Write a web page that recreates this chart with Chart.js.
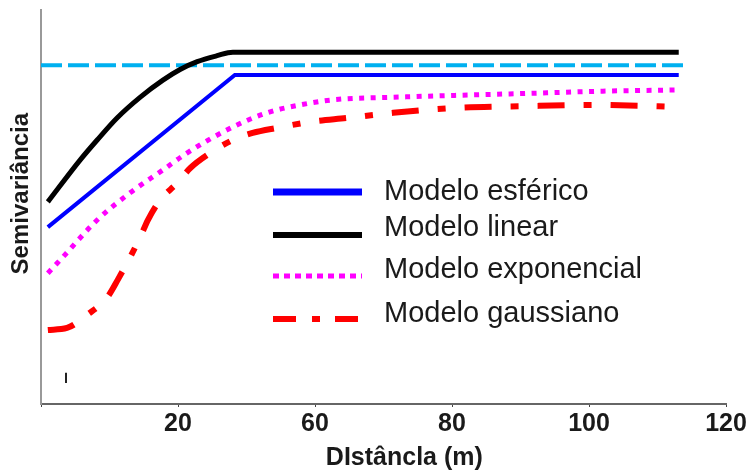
<!DOCTYPE html>
<html>
<head>
  <title>Semivariograma - modelos</title>
  <script src="https://cdn.jsdelivr.net/npm/chart.js"></script>
  <style>
    body { margin: 0; background: #fff; }
    canvas { display: block; }
  </style>
</head>
<body>
  <canvas id="semiChart" width="754" height="472"></canvas>

  <script>
    // x ticks as printed on the original figure
    const xTickValues = [0, 20, 40, 60, 80, 100];
    const xTickLabels = ['', '20', '60', '80', '100', '120'];

    // values (y in arbitrary 0-100 units)
    const esfericoX = [1.0, 28.3, 93.1];
    const esfericoY = [44.9, 83.5, 83.5];

    const linearX = [1.0, 5.7, 8.2, 11.1, 14.5, 17.8, 20.3, 22.8, 25.7, 28.0, 93.1];
    const linearY = [51.3, 61.9, 67.0, 72.6, 77.9, 82.2, 84.9, 86.9, 88.4, 89.3, 89.3];

    const exponencialX = [1.0, 3.2, 8.2, 13.0, 17.8, 21.3, 28.0, 33.0, 37.8, 42.6, 52.4, 72.4, 82.0, 93.1];
    const exponencialY = [33.2, 37.3, 46.7, 53.6, 59.4, 63.7, 70.3, 73.9, 75.9, 77.2, 77.9, 78.9, 79.4, 79.7];

    const gaussianoX = [1.0, 3.8, 6.7, 9.6, 11.2, 14.5, 15.6, 17.4, 19.9, 21.8, 24.7, 28.0, 30.9, 34.5, 39.3, 44.7, 51.4, 60.1, 70.9, 81.2, 93.1];
    const gaussianoY = [18.8, 19.3, 22.6, 26.9, 31.5, 42.4, 46.7, 51.8, 56.1, 59.9, 63.7, 67.0, 68.8, 70.1, 71.6, 72.6, 73.9, 75.1, 75.6, 75.9, 75.4];

    const patamarX = [0, 94.5];
    const patamarY = [86.0, 86.0];

    const marcaX = [3.65, 3.65];
    const marcaY = [7.9, 5.3];

    const pts = (xs, ys) => xs.map((x, i) => ({ x: x, y: ys[i] }));

    // legend drawn inside the plot area
    const innerLegend = {
      id: 'innerLegend',
      afterDatasetsDraw(chart, args, opts) {
        const ctx = chart.ctx;
        ctx.save();
        opts.items.forEach(item => {
          const ds = chart.data.datasets[item.index];
          ctx.beginPath();
          ctx.setLineDash(item.dash || []);
          ctx.lineCap = 'butt';
          ctx.strokeStyle = ds.borderColor;
          ctx.lineWidth = item.width;
          ctx.moveTo(opts.lineX0, item.lineY);
          ctx.lineTo(opts.lineX1, item.lineY);
          ctx.stroke();
          ctx.setLineDash([]);
          ctx.fillStyle = '#1a1a1a';
          ctx.font = '29px "Liberation Sans", Arial, sans-serif';
          ctx.textBaseline = 'middle';
          ctx.textAlign = 'left';
          ctx.fillText(ds.label, opts.textX, item.textY);
        });
        ctx.restore();
      }
    };

    const ctx = document.getElementById('semiChart').getContext('2d');
    const semiChart = new Chart(ctx, {
      type: 'line',
      data: {
        datasets: [
          {
            label: 'Modelo esférico',
            data: pts(esfericoX, esfericoY),
            borderColor: '#0000ff',
            borderWidth: 4,
            tension: 0
          },
          {
            label: 'Modelo linear',
            data: pts(linearX, linearY),
            borderColor: '#000000',
            borderWidth: 5,
            cubicInterpolationMode: 'monotone'
          },
          {
            label: 'Modelo exponencial',
            data: pts(exponencialX, exponencialY),
            borderColor: '#ff00ff',
            borderWidth: 5,
            borderDash: [5, 6.5],
            cubicInterpolationMode: 'monotone'
          },
          {
            label: 'Modelo gaussiano',
            data: pts(gaussianoX, gaussianoY),
            borderColor: '#ff0000',
            borderWidth: 6,
            borderDash: [27, 19, 8, 19],
            cubicInterpolationMode: 'monotone'
          },
          {
            data: pts(patamarX, patamarY),
            borderColor: '#00b0f0',
            borderWidth: 4,
            borderDash: [21, 6],
            tension: 0
          },
          {
            data: pts(marcaX, marcaY),
            borderColor: '#222222',
            borderWidth: 2,
            tension: 0
          }
        ]
      },
      options: {
        responsive: false,
        animation: false,
        elements: { point: { radius: 0 }, line: { borderCapStyle: 'butt' } },
        layout: { padding: { top: 10, right: 28, left: 0, bottom: 0 } },
        plugins: {
          legend: { display: false },
          tooltip: { enabled: false },
          innerLegend: {
            lineX0: 273,
            lineX1: 362,
            textX: 384,
            items: [
              { index: 0, width: 7, lineY: 192, textY: 192 },
              { index: 1, width: 6, lineY: 235, textY: 228 },
              { index: 2, width: 5, lineY: 276, textY: 270, dash: [6, 5] },
              { index: 3, width: 6, lineY: 319, textY: 314, dash: [23, 16, 8, 15] }
            ]
          }
        },
        scales: {
          x: {
            type: 'linear',
            min: 0,
            max: 100,
            afterBuildTicks: scale => { scale.ticks = xTickValues.map(v => ({ value: v })); },
            afterFit: scale => { scale.height = 68; },
            ticks: {
              callback: value => xTickLabels[xTickValues.indexOf(value)],
              color: '#1a1a1a',
              padding: 2,
              maxRotation: 0,
              font: { family: '"Liberation Sans", Arial, sans-serif', size: 25, weight: 'bold' }
            },
            grid: { display: true, drawOnChartArea: false, tickLength: 3, color: '#444' },
            border: { display: true, color: '#666', width: 2 },
            title: {
              display: true,
              text: '      DIstâncla (m)',
              color: '#1a1a1a',
              padding: { top: 0, bottom: 1 },
              font: { family: '"Liberation Sans", Arial, sans-serif', size: 25, weight: 'bold', lineHeight: 1 }
            }
          },
          y: {
            type: 'linear',
            min: 0,
            max: 100,
            afterFit: scale => { scale.width = 41; },
            ticks: { display: false },
            grid: { display: false },
            border: { display: true, color: '#999', width: 2 },
            title: {
              display: true,
              text: '    Semivariância',
              color: '#1a1a1a',
              padding: { top: 7, bottom: 0 },
              font: { family: '"Liberation Sans", Arial, sans-serif', size: 24, weight: 'bold' }
            }
          }
        }
      },
      plugins: [innerLegend]
    });
  </script>
</body>
</html>
